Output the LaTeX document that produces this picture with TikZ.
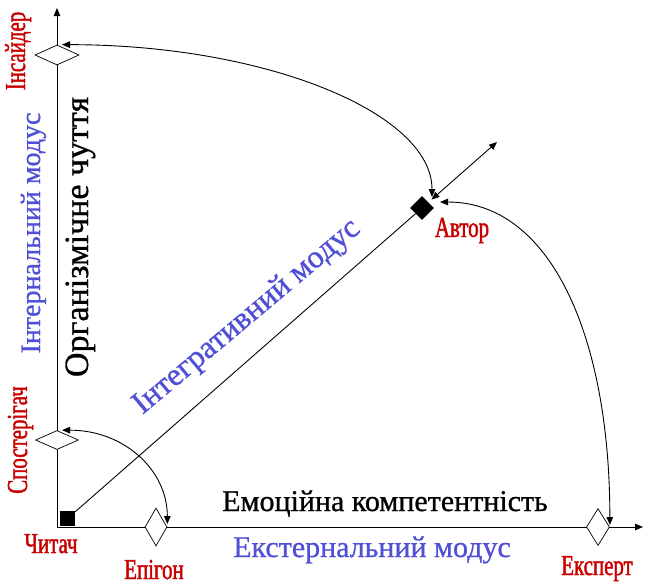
\documentclass[tikz,border=0pt]{standalone}
\usepackage{fontspec}
\setmainfont{Liberation Serif}
\newfontfamily\condfont[FakeStretch=0.72,FakeBold=1.4]{Liberation Serif}
\newfontfamily\heavyfont[FakeBold=0.8]{Liberation Serif}
\usetikzlibrary{shapes.geometric,arrows.meta}
\definecolor{lblred}{RGB}{200,0,0}
\definecolor{lblblue}{RGB}{80,80,215}
\begin{document}
\begin{tikzpicture}[x=1pt,y=-1pt,
  rolelbl/.style={text=lblred, font=\condfont\fontsize{29}{31}\selectfont, inner sep=0, anchor=base},
  modelbl/.style={text=lblblue, font=\heavyfont\fontsize{28}{30}\selectfont, inner sep=0, anchor=base},
  axislbl/.style={text=black, font=\heavyfont\fontsize{30}{32}\selectfont, inner sep=0, anchor=base},
  openmark/.style={diamond, draw, fill=white, line width=0.7pt, inner sep=0},
  arr/.style={line width=0.9pt, -{Triangle[length=8pt,width=6.5pt]}},
  darr/.style={line width=0.9pt, {Triangle[length=8pt,width=6.5pt]}-{Triangle[length=8pt,width=6.5pt]}}]
\useasboundingbox (0,0) rectangle (645,584);
\coordinate (origin) at (57,527);
\coordinate (ytip) at (57,8);
\coordinate (xtip) at (643,527);
\coordinate (outtip) at (497,142);
\draw[arr] (origin) -- (ytip);
\draw[arr] (origin) -- (xtip);
\node[openmark, minimum width=44pt, minimum height=20pt] (insider) at (57,55) {};
\node[openmark, minimum width=43pt, minimum height=19pt] (observer) at (57,440) {};
\node[openmark, minimum width=22pt, minimum height=38pt] (epigon) at (156,527) {};
\node[openmark, minimum width=23pt, minimum height=37pt] (expert) at (598,527) {};
\node[fill=black, minimum size=15pt, inner sep=0] (reader) at (67.5,518.5) {};
\node[diamond, fill=black, minimum width=24pt, minimum height=24pt, inner sep=0] (author) at (422,208) {};
\draw[line width=0.9pt] (reader) -- (author);
\draw[darr, shorten <=4pt] (author) -- (outtip);
\draw[darr] ([xshift=5pt]insider.north) .. controls +(204,0) and +(0,-84) .. ([xshift=10pt,yshift=11pt]author.center);
\draw[darr] ([xshift=18pt,yshift=6pt]author.center) .. controls +(110,0) and +(0,-190) .. ([yshift=2pt]expert.east);
\draw[darr] ([xshift=5pt]observer.north) .. controls +(62,0) and +(0,-54) .. ([yshift=3pt]epigon.east);
\node[rolelbl, rotate=90] (insiderlbl) at (25,51) {Інсайдер};
\node[modelbl, rotate=90] (internlbl) at (40,233) {Інтернальний модус};
\node[axislbl, rotate=90, font=\heavyfont\fontsize{34}{36}\selectfont] (organlbl) at (88,237) {Організмічне чуття};
\node[rolelbl, rotate=90] (observerlbl) at (27,440) {Спостерігач};
\node[rolelbl] (readerlbl) at (51,553) {Читач};
\node[rolelbl] (epigonlbl) at (154,579) {Епігон};
\node[rolelbl] (expertlbl) at (597,575) {Експерт};
\node[rolelbl] (authorlbl) at (462,237) {Автор};
\node[axislbl] (emolbl) at (385,511) {Емоційна компетентність};
\node[modelbl, font=\heavyfont\fontsize{30}{32}\selectfont] (externlbl) at (372,557) {Екстернальний модус};
\node[modelbl, rotate=40, font=\heavyfont\fontsize{32}{34}\selectfont] (integrlbl) at (252,323) {Інтегративний модус};
\end{tikzpicture}
\end{document}
